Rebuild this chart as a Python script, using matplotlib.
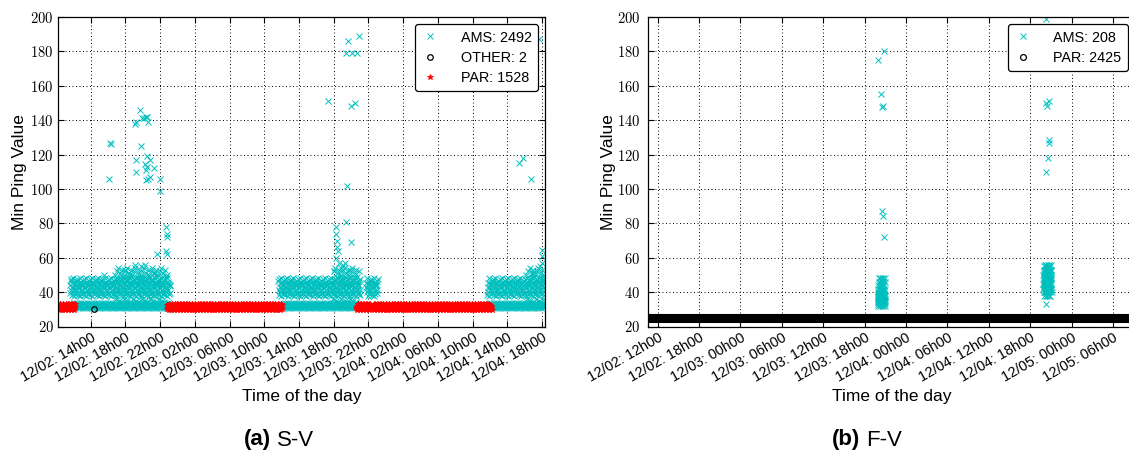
import numpy as np
import matplotlib
matplotlib.use("Agg")
import matplotlib.pyplot as plt
import matplotlib.dates as mdates
from matplotlib.ticker import FuncFormatter, MultipleLocator

plt.rcParams["font.family"] = ["Liberation Sans", "DejaVu Sans"]
plt.rcParams["mathtext.fontset"] = "cm"

W, H = 1129, 454

# ---- (a) S-V : hours since 12/02 00h00 ----
# dense bands: (start, end) spans in hours, and the ping levels seen in them
SV_AMS_HIGH_SPANS = [(11.6, 23.2), (35.6, 45.1), (45.7, 47.1), (59.7, 66.3)]
SV_AMS_HIGH_LEVELS = [44, 39.5, 46.5, 41, 47.5, 38.5, 43, 45.5, 40, 42.5, 48, 37.5, 44.5, 41.5, 46, 39, 45, 43.5]
SV_AMS_LOW_SPANS = [(11.8, 23.0), (36.0, 42.4), (42.4, 44.6), (59.8, 66.3)]
SV_AMS_LOW_LEVELS = [32, 31, 33.2, 32.5, 31.6, 33.8, 32.2, 31.3, 33]
SV_AMS_MID_SPANS = [(16.8, 22.8), (41.9, 44.7), (64.2, 66.3)]
SV_AMS_MID_LEVELS = [50, 36, 52, 47, 54, 35, 49, 51, 34.5, 53, 48.5]
SV_PAR_SPANS = [(10.3, 12.2), (22.8, 36.05), (44.6, 46.2), (46.5, 60.2)]
SV_PAR_LEVELS = [31, 30, 32.2, 31.5, 29.6, 32.8, 30.6, 33.2, 31.2, 30.3, 32.4]

SV_AMS_OUT_H = [16.14, 16.26, 16.34, 19.13, 19.22, 19.71, 19.95, 20.16, 20.53, 20.65, 20.37,
                19.22, 19.83, 19.22, 20.53, 20.86, 20.24, 20.32, 20.53, 20.65, 20.37, 20.78,
                21.35, 21.97, 21.97, 21.68, 22.71, 22.75, 22.75, 22.62, 22.75, 19.13, 20.24,
                19.75, 21.27, 17.98, 18.39, 15.5,
                41.39, 43.65, 43.45, 44.06, 44.68, 44.88, 43.98, 44.47, 43.53, 43.45, 43.94,
                42.21, 42.29, 42.42, 42.38, 42.46, 42.21, 42.62, 43.03, 43.24, 42.83, 43.86,
                44.88, 42.0,
                63.36, 63.77, 64.72, 65.62, 66.03, 66.03, 65.95, 65.8, 65.4, 65.0]
SV_AMS_OUT_V = [106, 127, 126, 138, 139, 146, 141, 141, 142, 139, 142,
                117, 125, 110, 119, 117, 114.5, 111, 113, 106, 105, 107,
                112, 106, 99, 62, 78, 74, 72, 64, 62, 55.5, 55.5,
                55, 51, 53, 50, 50,
                151, 186, 179, 179, 179, 189, 148, 150, 102, 81, 69,
                78, 74, 70, 66, 64, 60, 57, 55.5, 57, 54, 53,
                52, 52.5,
                115, 118, 106, 187, 64.5, 57, 61, 55, 52, 51]
SV_OTHER_H = [14.37, 45.3]
SV_OTHER_V = [30, 31]

# ---- (b) F-V ----
FV_PAR_SPANS = [(10.65, 81.2)]
FV_PAR_LEVELS = [25, 24.3, 25.6, 24.8, 25.3, 24.5, 25.8, 24.9]
FV_AMS_C1_SPANS = [(43.9, 45.0)]
FV_AMS_C1_LEVELS = [34, 38, 36, 40, 33, 42, 35, 37, 44, 39, 32, 46, 36, 41, 48, 35, 38, 33.5, 37.5]
FV_AMS_C2_SPANS = [(67.9, 69.1)]
FV_AMS_C2_LEVELS = [45, 50, 42, 48, 53, 40, 47, 44, 51, 38, 55, 46, 49, 43, 52, 41, 56, 47.5]
FV_AMS_OUT_H = [43.97, 44.77, 44.35, 44.55, 44.6, 44.55, 44.6, 44.77,
                68.3, 68.3, 68.7, 68.5, 68.7, 68.75, 68.6, 68.3, 68.3]
FV_AMS_OUT_V = [175, 180, 155, 147.5, 148.5, 87, 84, 72,
                199, 150, 151, 148, 128.5, 127, 118, 110, 33]

BASE = mdates.date2num(np.datetime64("2013-12-02T00:00"))


def to_dates(hours):
    return BASE + np.asarray(hours, dtype=float) / 24.0


def band(spans, levels, step):
    t = np.concatenate([np.arange(a, b, step) for a, b in spans])
    v = np.resize(np.asarray(levels, dtype=float), t.size)
    return t, v


def style_axes(ax, xlim, byhour, ypad):
    ax.set_xlim(to_dates(xlim))
    ax.set_ylim(20, 200)
    ax.yaxis.set_major_locator(MultipleLocator(20))
    ax.yaxis.set_major_formatter(FuncFormatter(lambda v, p: f"${v:.0f}$"))
    ax.xaxis.set_major_locator(mdates.HourLocator(byhour=byhour))
    ax.xaxis.set_major_formatter(mdates.DateFormatter("%m/%d: %Hh%M"))
    ax.tick_params(direction="in", top=True, right=True, length=4, width=0.8)
    ax.tick_params(axis="y", labelsize=10.5, pad=ypad)
    ax.tick_params(axis="x", labelsize=10.4, pad=3)
    plt.setp(ax.get_xticklabels(), rotation=30, ha="right", rotation_mode="anchor")
    ax.grid(True, color="k", lw=0.7, dashes=(1, 2.6))
    ax.set_axisbelow(True)
    for s in ax.spines.values():
        s.set_linewidth(0.9)
    ax.set_xlabel("Time of the day", fontsize=12.5, va="center")
    ax.set_ylabel("Min Ping Value", fontsize=12.5, va="center")


fig = plt.figure(figsize=(W / 100, H / 100), dpi=100)
bottom, height = (H - 326.5) / H, 309.5 / H
ax1 = fig.add_axes([58.3 / W, bottom, 487 / W, height])
ax2 = fig.add_axes([648.3 / W, bottom, 486.7 / W, height])

# (a) S-V
t_hi, v_hi = band(SV_AMS_HIGH_SPANS, SV_AMS_HIGH_LEVELS, 0.04)
t_lo, v_lo = band(SV_AMS_LOW_SPANS, SV_AMS_LOW_LEVELS, 0.045)
t_mid, v_mid = band(SV_AMS_MID_SPANS, SV_AMS_MID_LEVELS, 0.09)
ams_t = np.concatenate([t_hi, t_lo, t_mid, SV_AMS_OUT_H])
ams_v = np.concatenate([v_hi, v_lo, v_mid, SV_AMS_OUT_V])
t_par, v_par = band(SV_PAR_SPANS, SV_PAR_LEVELS, 0.03)

ax1.plot(to_dates(ams_t), ams_v, ls="none", marker="x", ms=3.8, mew=0.7, color="c", label="AMS: 2492")
ax1.plot(to_dates(SV_OTHER_H), SV_OTHER_V, ls="none", marker="o", ms=4, mew=0.9, mfc="none", mec="k",
         label="OTHER: 2")
ax1.plot(to_dates(t_par), v_par, ls="none", marker="*", ms=4.2, mew=0.6, color="r", label="PAR: 1528")
style_axes(ax1, (10.27, 66.37), range(2, 24, 4), 3.2)
ax1.xaxis.set_label_coords(0.5, (326.5 - 396.7) / 309.5)
ax1.yaxis.set_label_coords((19 - 58.3) / 487, 0.5)

# (b) F-V
c1_t, c1_v = band(FV_AMS_C1_SPANS, FV_AMS_C1_LEVELS, 0.0116)
c2_t, c2_v = band(FV_AMS_C2_SPANS, FV_AMS_C2_LEVELS, 0.0126)
fams_t = np.concatenate([c1_t, c2_t, FV_AMS_OUT_H])
fams_v = np.concatenate([c1_v, c2_v, FV_AMS_OUT_V])
fpar_t, fpar_v = band(FV_PAR_SPANS, FV_PAR_LEVELS, 0.045)

ax2.plot(to_dates(fams_t), fams_v, ls="none", marker="x", ms=3.8, mew=0.7, color="c", label="AMS: 208")
ax2.plot(to_dates(fpar_t), fpar_v, ls="none", marker="o", ms=4.2, mew=0.9, mfc="none", mec="k",
         label="PAR: 2425")
style_axes(ax2, (10.65, 81.2), range(0, 24, 6), 6)
ax2.xaxis.set_label_coords(0.5, (326.5 - 396.7) / 309.5)
ax2.yaxis.set_label_coords((608 - 648.3) / 486.7, 0.5)

for ax, right in ((ax1, 538.3), (ax2, 1128)):
    leg = ax.legend(loc="upper right", bbox_to_anchor=(right / W, 1 - 24 / H),
                    bbox_transform=fig.transFigure, borderaxespad=0, fontsize=10.4,
                    numpoints=1, handlelength=1.2, handletextpad=1.5, labelspacing=0.42,
                    borderpad=0.45, fancybox=True, framealpha=1, edgecolor="k")
    leg.get_frame().set_linewidth(0.9)

# sub-captions
cy = 1 - 440 / H
fig.text(271 / W, cy, "(a)", fontsize=16, fontweight="bold", ha="right", va="center")
fig.text(277 / W, cy, "S-V", fontsize=16, ha="left", va="center")
fig.text(860 / W, cy, "(b)", fontsize=16, fontweight="bold", ha="right", va="center")
fig.text(866 / W, cy, "F-V", fontsize=16, ha="left", va="center")

fig.savefig("out.png", dpi=100)
